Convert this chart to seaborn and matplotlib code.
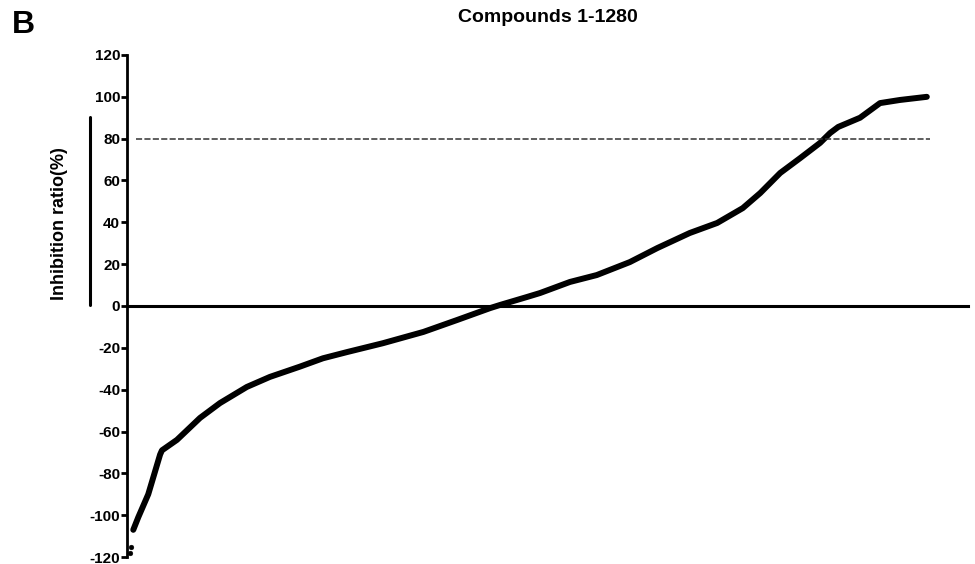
import numpy as np
import pandas as pd
import seaborn as sns
import matplotlib.pyplot as plt

# sorted inhibition ratios (compound rank -> %)
rank = [6, 14, 30, 38, 49, 52, 76, 113, 145, 188, 225, 273, 310, 349, 406,
        471, 525, 578, 594, 637, 658, 706, 749, 802, 846, 898, 942, 983,
        1011, 1043, 1075, 1107, 1123, 1136, 1171, 1203, 1235, 1278]
inhibition = [-107, -101, -90, -82, -71, -69, -64, -53.5, -46.4, -38.7, -33.9,
              -29, -25, -22, -17.8, -12.4, -6.7, -1, 0.5, 4.3, 6.2, 11.5, 14.8,
              21, 27.7, 34.9, 39.7, 46.8, 54, 63.6, 70.7, 78, 82.7, 85.6, 90,
              97, 98.5, 100]
# the two lowest compounds show as loose dots
low_rank = [1, 3]
low_inhibition = [-118, -115]

threshold = 80
n_compounds = 1280
yticks = list(range(-120, 121, 20))

sns.set_style('ticks')
plt.rcParams['font.family'] = ['Liberation Sans', 'DejaVu Sans']
plt.rcParams['font.weight'] = 'bold'
for key in ['text.color', 'axes.labelcolor', 'xtick.color', 'ytick.color', 'axes.edgecolor']:
    plt.rcParams[key] = 'black'

df = pd.DataFrame({'Rank': rank, 'Inhibition': inhibition})
df_low = pd.DataFrame({'Rank': low_rank, 'Inhibition': low_inhibition})

fig = plt.figure(figsize=(9.75, 5.64), dpi=100)
ax = fig.add_axes([0.1303, 0.0124, 0.8625, 0.8901])

sns.lineplot(data=df, x='Rank', y='Inhibition', color='black', linewidth=4.3,
             solid_capstyle='round', solid_joinstyle='round', ax=ax)
sns.scatterplot(data=df_low, x='Rank', y='Inhibition', color='black', s=12,
                edgecolor='black', ax=ax)

ax.hlines(threshold, 10, n_compounds + 3, colors='#333333', linestyles=(0, (4, 1.5)),
          linewidth=1.1)

ax.set_xlim(-4, 1344)
ax.set_ylim(-120, 120)
ax.set_yticks(yticks)
ax.set_yticklabels([str(t) for t in yticks], fontsize=11, fontweight='bold')
ax.set_xticks([])
ax.set_xlabel('')

ax.spines['top'].set_visible(False)
ax.spines['right'].set_visible(False)
ax.spines['bottom'].set_position(('data', 0))
ax.spines['bottom'].set_linewidth(2.2)
ax.spines['left'].set_linewidth(2.0)
ax.tick_params(axis='y', direction='out', length=4, width=2, pad=1)
ax.patch.set_alpha(0)

ax.set_ylabel('Inhibition ratio(%)', fontsize=13, fontweight='bold')
ax.yaxis.set_label_coords(-0.070, 0.665)
ax.plot([-0.044, -0.044], [0.502, 0.876], transform=ax.transAxes,
        color='black', linewidth=2.2, clip_on=False)

ax.set_title('Compounds 1-1280', fontsize=14, fontweight='bold', pad=24)
fig.text(0.012, 0.955, 'B', fontsize=23, fontweight='bold', va='center')

fig.savefig('out.png', dpi=100)
